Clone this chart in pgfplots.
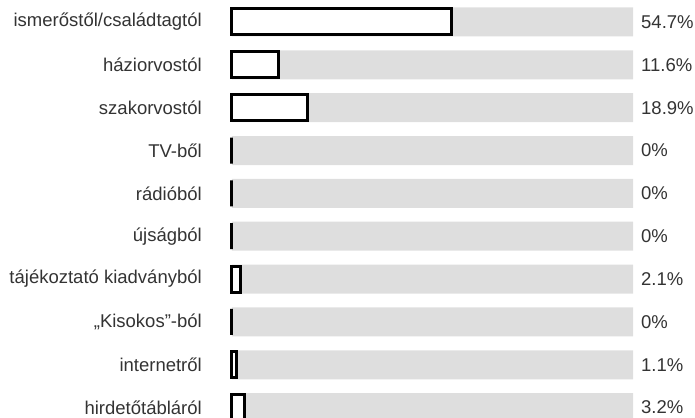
\documentclass[border=0pt]{standalone}
\usepackage{pgfplots}
\pgfplotsset{compat=1.18}
\usepackage{pgfplotstable}
\usepackage{fontspec}
\setmainfont{Liberation Sans}
\definecolor{bg}{RGB}{222,222,222}
\definecolor{txt}{RGB}{51,51,51}
\pgfplotstableread{
idx val
0 54.7
1 11.6
2 18.9
3 0
4 0
5 0
6 2.1
7 0
8 1.1
9 3.2
}\data
\begin{document}
\begin{tikzpicture}
\begin{axis}[
  at={(0pt,0pt)}, anchor=south west,
  scale only axis,
  clip=false,
  width=401pt, height=417pt,
  xmin=0, xmax=100,
  ymin=-0.5135, ymax=9.219,
  y dir=reverse,
  axis line style={draw=none},
  major tick length=0pt,
  xtick=\empty,
  ytick={0,...,9},
  yticklabels={ismerőstől/családtagtól,háziorvostól,szakorvostól,TV-ből,rádióból,újságból,tájékoztató kiadványból,„Kisokos”-ból,internetről,hirdetőtábláról},
  yticklabel style={font=\fontsize{18.5}{22}\selectfont, text=txt, anchor=east, inner sep=0pt, xshift=-30pt},
]
\addplot[xbar, bar width=29pt, bar shift=0pt, fill=bg, draw=none,
  point meta=explicit symbolic,
  nodes near coords={\pgfplotspointmeta\%},
  nodes near coords style={anchor=west, inner sep=0pt, xshift=8pt, font=\fontsize{18.5}{22}\selectfont, text=txt}]
  table[x expr=100, y=idx, meta=val] {\data};
\addplot[xbar, bar width=26pt, bar shift=0pt, fill=white, draw=black, line width=3pt]
  table[x=val, y=idx] {\data};
\end{axis}
\pgfresetboundingbox
\path[use as bounding box] (-232pt,0pt) rectangle (463pt,417pt);
\end{tikzpicture}
\end{document}
